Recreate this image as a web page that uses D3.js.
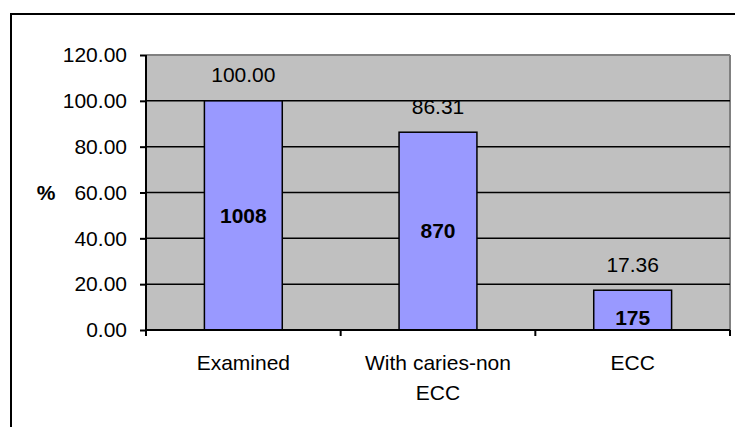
<!DOCTYPE html>
<html><head><meta charset="utf-8">
<script src="https://cdn.jsdelivr.net/npm/d3@7"></script>
<style>body{margin:0;background:#fff}svg{display:block;font-family:"Liberation Sans",Arial,sans-serif}</style>
</head><body><svg id="c" width="735" height="427"></svg>
<script>
const categories = [["Examined"], ["With caries-non", "ECC"], ["ECC"]];
const percents = [100.00, 86.31, 17.36];
const counts = [1008, 870, 175];
const yTicks = [0, 20, 40, 60, 80, 100, 120];
const yLabel = "%";

const svg = d3.select("#c");
const L = 146, R = 730, T = 55, B = 330;
const fs = 21;

// outer chart border
svg.append("rect").attr("x", 11).attr("y", 14).attr("width", 740).attr("height", 430)
  .attr("fill", "none").attr("stroke", "#000").attr("stroke-width", 2);

const x = d3.scaleBand().domain(d3.range(categories.length)).range([L, R]).paddingInner(0).paddingOuter(0);
const y = d3.scaleLinear().domain([0, 120]).range([B, T]);

// plot area
svg.append("rect").attr("x", L).attr("y", T).attr("width", R - L).attr("height", B - T).attr("fill", "#C0C0C0");
svg.append("line").attr("x1", L).attr("x2", R).attr("y1", T).attr("y2", T).attr("stroke", "#808080").attr("stroke-width", 2);
svg.append("line").attr("x1", R).attr("x2", R).attr("y1", T).attr("y2", B).attr("stroke", "#808080").attr("stroke-width", 2);

// gridlines
svg.append("g").selectAll("line").data(yTicks.filter(d => d > 0 && d < 120)).join("line")
  .attr("x1", L).attr("x2", R).attr("y1", d => y(d)).attr("y2", d => y(d))
  .attr("stroke", "#000").attr("stroke-width", 1.5);

// bars
const bw = x.bandwidth() * 0.4;
svg.append("g").selectAll("rect").data(percents).join("rect")
  .attr("x", (d, i) => x(i) + (x.bandwidth() - bw) / 2)
  .attr("y", d => y(d)).attr("width", bw).attr("height", d => B - y(d))
  .attr("fill", "#9999FF").attr("stroke", "#000").attr("stroke-width", 1.5);

// y axis
const ya = d3.axisLeft(y).tickValues(yTicks).tickFormat(d3.format(".2f")).tickSize(6).tickPadding(13);
const gy = svg.append("g").attr("transform", `translate(${L},0)`).call(ya);
gy.select(".domain").attr("stroke", "#000").attr("stroke-width", 2).attr("d", `M0,${T}V${B}`);
gy.selectAll(".tick line").attr("stroke", "#000").attr("stroke-width", 2);
gy.selectAll(".tick text").attr("font-size", fs).attr("fill", "#000").attr("font-family", "Liberation Sans, Arial, sans-serif");

// x axis
const xa = d3.axisBottom(x).tickValues([]).tickSize(0);
const gx = svg.append("g").attr("transform", `translate(0,${B})`).call(xa);
gx.select(".domain").attr("stroke", "#000").attr("stroke-width", 2).attr("d", `M${L},0H${R}`);
const seps = d3.range(categories.length + 1).map(i => i < categories.length ? x(i) : x(categories.length - 1) + x.bandwidth());
gx.selectAll("line.sep").data(seps).join("line").attr("class", "sep")
  .attr("x1", d => d).attr("x2", d => d).attr("y1", 0).attr("y2", 6).attr("stroke", "#000").attr("stroke-width", 2);

// category labels
const cl = svg.append("g").selectAll("text").data(categories).join("text")
  .attr("x", (d, i) => x(i) + x.bandwidth() / 2).attr("y", 370)
  .attr("text-anchor", "middle").attr("font-size", fs).attr("fill", "#000");
cl.selectAll("tspan").data(d => d).join("tspan")
  .attr("x", function() { return d3.select(this.parentNode).attr("x"); })
  .attr("dy", (d, i) => i === 0 ? 0 : 30).text(d => d);

// y label
svg.append("text").attr("x", 46).attr("y", 193).attr("dy", "0.35em").attr("text-anchor", "middle")
  .attr("font-size", fs).attr("font-weight", "bold").text(yLabel);

// percentage labels above bars
svg.append("g").selectAll("text").data(percents).join("text")
  .attr("x", (d, i) => x(i) + x.bandwidth() / 2).attr("y", d => y(d) - 26).attr("dy", "0.35em")
  .attr("text-anchor", "middle").attr("font-size", fs).text(d => d3.format(".2f")(d));

// count labels inside bars
svg.append("g").selectAll("text").data(counts).join("text")
  .attr("x", (d, i) => x(i) + x.bandwidth() / 2)
  .attr("y", (d, i) => { const h = B - y(percents[i]); return h < 60 ? B - 12 : (y(percents[i]) + B) / 2; })
  .attr("dy", "0.35em").attr("text-anchor", "middle").attr("font-size", fs).attr("font-weight", "bold").text(d => d);
</script></body></html>
